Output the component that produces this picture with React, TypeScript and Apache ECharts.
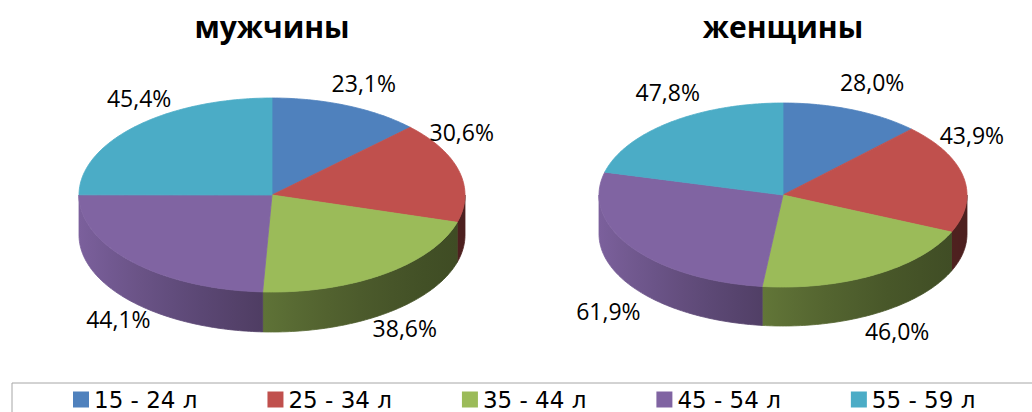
import React, { useEffect, useRef } from 'react';
import * as echarts from 'echarts';

// ---- data ----
const ageGroups = ['15 - 24 л', '25 - 34 л', '35 - 44 л', '45 - 54 л', '55 - 59 л'];
const pieTitles = ['мужчины', 'женщины'];
const menValues = [23.1, 30.6, 38.6, 44.1, 45.4];
const womenValues = [28.0, 43.9, 46.0, 61.9, 47.8];
const colors = ['#4F81BD', '#C0504D', '#9BBB59', '#8064A2', '#4BACC6'];

const pieValues = [menValues, womenValues];

// ---- layout (pixels) ----
const pieLayout = [
  { cx: 272, cy: 195, rx: 193, ry: 97, depth: 40 },
  { cx: 783, cy: 195, rx: 184, ry: 92, depth: 39 },
];
const FONT = '"Open Sans", "DejaVu Sans", sans-serif';
const LEGEND_FONT = '"DejaVu Sans", sans-serif';

function hexToRgb(h: string) {
  const n = parseInt(h.slice(1), 16);
  return [(n >> 16) & 255, (n >> 8) & 255, n & 255];
}
function shade(hex: string, f: number) {
  const [r, g, b] = hexToRgb(hex);
  const c = (v: number) => Math.max(0, Math.min(255, Math.round(v * f)));
  return `rgb(${c(r)},${c(g)},${c(b)})`;
}
// lighting of the rim: bright on the left, dark on the right
function rimFactor(s: number) {
  return 0.6 - 0.28 * s + 0.08 * s * s;
}

function fmt(v: number) {
  return v.toFixed(1).replace('.', ',') + '%';
}

// outside-end label placement (text centre) for a slice whose middle is at angle `mid`
function labelPos(L: any, mid: number) {
  const c = Math.cos(mid);
  const s = Math.sin(mid);
  let rX: number;
  let y: number;
  if (c >= 0) {
    rX = s >= 0 ? 181 + 60 * c : 188;
    y = L.cy - 46 - 72 * c;
  } else {
    rX = s >= 0 ? 229 : 212;
    y = L.cy + 78 - 67 * c;
  }
  return [L.cx + rX * s, y];
}

function makeRenderItem(groupIdx: number) {
  return (params: any, api: any) => {
    const pieIdx = params.dataIndex;
    const values = pieValues[pieIdx];
    const L = pieLayout[pieIdx];
    const total = values.reduce((a, b) => a + b, 0);
    const before = values.slice(0, groupIdx).reduce((a, b) => a + b, 0);
    const v = api.value(1);
    const a0 = (before / total) * Math.PI * 2;
    const a1 = ((before + v) / total) * Math.PI * 2;
    const color = colors[groupIdx];

    const pt = (t: number, dy = 0) => [L.cx + L.rx * Math.sin(t), L.cy - L.ry * Math.cos(t) + dy];
    const arc = (s: number, e: number, dy = 0) => {
      const n = Math.max(2, Math.ceil((e - s) / (Math.PI / 180)));
      const out: number[][] = [];
      for (let i = 0; i <= n; i++) out.push(pt(s + ((e - s) * i) / n, dy));
      return out;
    };

    const children: any[] = [];

    // side (front half only)
    const s0 = Math.max(a0, Math.PI / 2);
    const s1 = Math.min(a1, (Math.PI * 3) / 2);
    if (s1 > s0) {
      const topEdge = arc(s0, s1);
      const botEdge = arc(s0, s1, L.depth).reverse();
      const pts = topEdge.concat(botEdge);
      const xs = topEdge.map((p) => p[0]);
      const minX = Math.min(...xs);
      const maxX = Math.max(...xs);
      const stops: any[] = [];
      for (let k = 0; k <= 6; k++) {
        const t = k / 6;
        const x = minX + (maxX - minX) * t;
        const s = (x - L.cx) / L.rx;
        stops.push({ offset: t, color: shade(color, rimFactor(s)) });
      }
      const grad = () => ({ type: 'linear', x: 0, y: 0, x2: 1, y2: 0, colorStops: stops.map((c) => ({ ...c })) });
      children.push({
        type: 'polygon',
        shape: { points: pts },
        style: { fill: grad(), stroke: grad(), lineWidth: 0.8 },
        z2: 1,
      });
    }

    // top
    children.push({
      type: 'polygon',
      shape: { points: [[L.cx, L.cy]].concat(arc(a0, a1)) },
      style: { fill: color, stroke: color, lineWidth: 0.8 },
      z2: 10,
    });

    // label
    const [lx, ly] = labelPos(L, (a0 + a1) / 2);
    children.push({
      type: 'text',
      style: {
        text: fmt(v),
        x: lx,
        y: ly,
        align: 'center',
        verticalAlign: 'middle',
        textAlign: 'center',
        textVerticalAlign: 'middle',
        fill: '#000',
        font: `23px ${FONT}`,
      },
      z2: 20,
    });

    return { type: 'group', children };
  };
}

export default function App() {
  const ref = useRef<HTMLDivElement>(null);
  useEffect(() => {
    if (!ref.current) return;
    const chart = echarts.init(ref.current, undefined, { renderer: 'svg' });
    const option: any = {
      animation: false,
      color: colors,
      graphic: pieTitles.map((t, i) => ({
        type: 'text',
        x: pieLayout[i].cx,
        y: 26,
        style: {
          text: t,
          align: 'center',
          verticalAlign: 'middle',
          textAlign: 'center',
          textVerticalAlign: 'middle',
          fill: '#000',
          font: `bold 30px ${FONT}`,
        },
      })),
      legend: {
        data: ageGroups,
        orient: 'horizontal',
        left: 12,
        top: 383,
        width: 1000,
        padding: [5, 61, 5, 61],
        icon: 'rect',
        itemWidth: 16,
        itemHeight: 16,
        itemGap: 70,
        borderColor: '#a6a6a6',
        borderWidth: 1,
        textStyle: { fontSize: 23, fontFamily: LEGEND_FONT, color: '#000' },
        selectedMode: false,
      },
      series: ageGroups.map((name, gi) => ({
        type: 'custom',
        name,
        coordinateSystem: 'none',
        itemStyle: { color: colors[gi] },
        dimensions: ['pie', 'value'],
        data: [
          [0, menValues[gi]],
          [1, womenValues[gi]],
        ],
        renderItem: makeRenderItem(gi),
      })),
    };
    chart.setOption(option);
    return () => chart.dispose();
  }, []);
  return (
    <div
      ref={ref}
      style={{ position: 'absolute', left: 0, top: 0, width: 1032, height: 412, background: '#fff' }}
    />
  );
}
